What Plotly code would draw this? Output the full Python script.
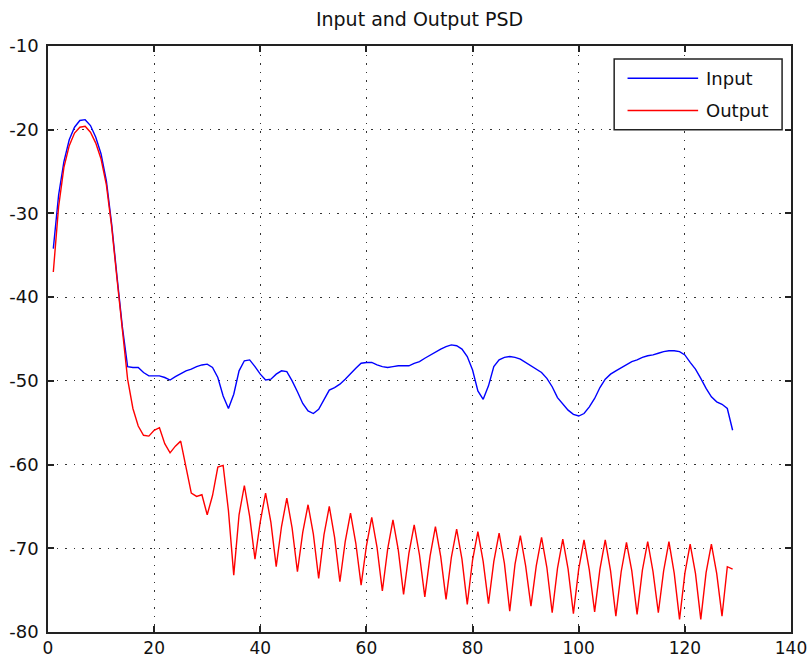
import plotly.graph_objects as go

# Frequency bin index (1..129)
freq_bins = list(range(1, 130))

# Input PSD in dB
input_psd = [
    -34.2, -27.8, -23.8, -21.2, -19.7, -18.9, -18.8, -19.5, -20.9, -22.9,
    -26.1, -31.3, -37.5, -43.5, -48.3, -48.4, -48.4, -49.0, -49.4, -49.4,
    -49.4, -49.6, -49.9, -49.5, -49.1, -48.8, -48.6, -48.3, -48.1, -48.0,
    -48.4, -49.6, -51.8, -53.3, -51.6, -48.8, -47.6, -47.5, -48.3, -49.2,
    -49.9, -49.8, -49.2, -48.8, -48.9, -50.0, -51.3, -52.7, -53.6, -53.9,
    -53.4, -52.2, -51.1, -50.8, -50.4, -49.8, -49.1, -48.5, -47.9, -47.8,
    -47.8, -48.1, -48.3, -48.4, -48.3, -48.2, -48.2, -48.2, -47.9, -47.7,
    -47.3, -46.9, -46.5, -46.2, -45.9, -45.7, -45.8, -46.2, -47.1, -48.7,
    -51.2, -52.2, -50.6, -48.3, -47.5, -47.2, -47.1, -47.2, -47.4, -47.8,
    -48.2, -48.6, -49.0, -49.7, -50.7, -52.0, -52.8, -53.5, -54.0, -54.2,
    -53.9, -53.1, -52.1, -50.8, -49.8, -49.2, -48.8, -48.4, -48.0, -47.7,
    -47.5, -47.2, -47.0, -46.9, -46.7, -46.5, -46.4, -46.4, -46.5, -46.9,
    -47.8, -48.6, -49.7, -50.9, -51.9, -52.5, -52.8, -53.3, -55.9,
]

# Output PSD in dB
output_psd = [
    -37.0, -29.2, -24.5, -21.9, -20.4, -19.7, -19.6, -20.3, -21.6, -23.5,
    -26.6, -31.6, -37.8, -44.0, -49.8, -53.3, -55.4, -56.5, -56.6, -55.9,
    -55.6, -57.5, -58.6, -57.8, -57.2, -60.3, -63.4, -63.8, -63.6, -66.0,
    -63.7, -60.3, -60.1, -65.5, -73.2, -66.0, -62.5, -66.2, -71.3, -66.8,
    -63.4, -66.9, -72.2, -67.4, -64.0, -67.6, -72.8, -68.1, -64.8, -68.3,
    -73.6, -68.4, -65.0, -68.7, -74.0, -69.2, -65.8, -69.4, -74.4, -69.7,
    -66.3, -69.9, -75.1, -70.1, -66.6, -70.2, -75.5, -70.6, -67.2, -70.8,
    -75.8, -70.9, -67.4, -71.0, -76.1, -71.1, -67.7, -71.3, -76.7, -71.4,
    -68.0, -71.6, -76.6, -71.6, -68.2, -71.8, -77.5, -71.9, -68.5, -72.1,
    -76.9, -72.1, -68.7, -72.3, -77.7, -72.4, -68.9, -72.5, -77.8, -72.5,
    -69.0, -72.6, -77.6, -72.5, -69.0, -72.7, -78.1, -72.8, -69.3, -72.7,
    -77.9, -72.6, -69.2, -72.8, -77.7, -72.7, -69.2, -73.0, -78.5, -73.0,
    -69.5, -73.0, -78.5, -72.9, -69.5, -73.0, -78.1, -72.2, -72.5,
]

x_ticks = [0, 20, 40, 60, 80, 100, 120, 140]
y_ticks = [-80, -70, -60, -50, -40, -30, -20, -10]
y_tick_labels = ["-80", "-70", "-60", "-50", "-40", "-30", "-20", "-10"]
series_names = ["Input", "Output"]
series_colors = ["#0000ff", "#ff0000"]

FONT = "DejaVu Sans, Verdana, sans-serif"

fig = go.Figure()
for name, ys, color in zip(series_names, [input_psd, output_psd], series_colors):
    fig.add_trace(go.Scatter(
        x=freq_bins, y=ys, mode="lines", name=name,
        line=dict(color=color, width=1.4),
        showlegend=False,
    ))

axis_common = dict(
    showline=True, linecolor="#222", linewidth=1.5, mirror="ticks",
    ticks="inside", ticklen=6, tickcolor="#222", tickwidth=1.5,
    showgrid=True, gridcolor="#333", gridwidth=1.2, griddash="1.5px,7px",
    zeroline=False, automargin=False,
)

fig.update_xaxes(range=[0, 140], tickvals=x_ticks, ticklabelstandoff=0,
                 tickfont=dict(family=FONT, size=17, color="#111"),
                 **axis_common)
fig.update_yaxes(range=[-80, -10], tickvals=y_ticks, ticktext=y_tick_labels,
                 ticklabelstandoff=4,
                 tickfont=dict(family=FONT, size=18, color="#111"),
                 **axis_common)

# Boxed legend in the upper-right corner of the axes
leg_x0, leg_x1 = 0.762, 0.988
leg_y0, leg_y1 = 0.857, 0.978
shapes = [dict(type="rect", xref="paper", yref="paper",
               x0=leg_x0, x1=leg_x1, y0=leg_y0, y1=leg_y1,
               line=dict(color="#222", width=1.5), fillcolor="white", layer="above")]
annotations = []
row_y = [0.945, 0.890]
for name, color, yy in zip(series_names, series_colors, row_y):
    shapes.append(dict(type="line", xref="paper", yref="paper",
                       x0=0.780, x1=0.875, y0=yy, y1=yy,
                       line=dict(color=color, width=1.4), layer="above"))
    annotations.append(dict(xref="paper", yref="paper", x=0.883, y=yy,
                            text=name, showarrow=False, xanchor="left",
                            yanchor="middle",
                            font=dict(family=FONT, size=18, color="#111")))

fig.update_layout(
    width=810, height=659,
    margin=dict(l=48, r=19, t=46, b=27),
    paper_bgcolor="white", plot_bgcolor="white",
    title=dict(text="Input and Output PSD", x=0.5, xref="paper",
               y=0.971, yanchor="middle",
               font=dict(family=FONT, size=19, color="#111")),
    shapes=shapes, annotations=annotations,
)

fig.write_html("out.html")
